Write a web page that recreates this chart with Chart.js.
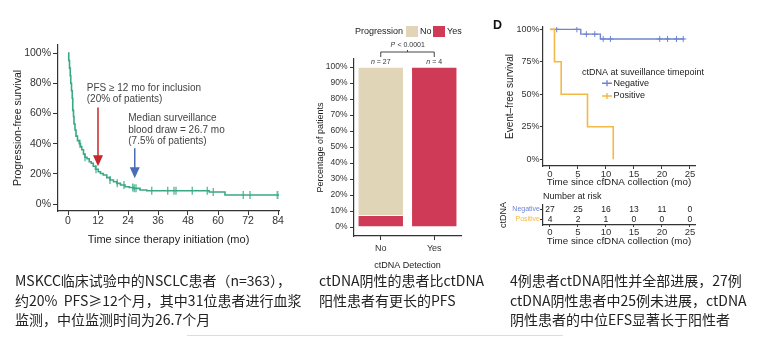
<!DOCTYPE html>
<html>
<head>
<meta charset="utf-8">
<script src="https://cdn.jsdelivr.net/npm/chart.js@4.4.1/dist/chart.umd.min.js"></script>
<style>
  html,body{margin:0;padding:0;background:#fff;}
  body{width:758px;height:338px;position:relative;overflow:hidden;}
  canvas{position:absolute;}
  .note{position:absolute;font-family:"Noto Sans CJK SC",sans-serif;font-size:14px;line-height:19.5px;color:#222;white-space:nowrap;}
  .tag{position:absolute;font-family:"Liberation Sans",Arial,sans-serif;font-weight:bold;font-size:12.5px;color:#111;}
  .rule{position:absolute;left:187px;top:335px;width:376px;height:1px;background:#ddd;}
</style>
</head>
<body>
<canvas id="cPfs" style="left:0;top:0" width="300" height="255"></canvas>
<canvas id="cBar" style="left:300px;top:0" width="180" height="280"></canvas>
<canvas id="cEfs" style="left:480px;top:0" width="278" height="190"></canvas>
<canvas id="cRisk" style="left:480px;top:190px" width="278" height="60"></canvas>
<div class="tag" style="left:493px;top:18px">D</div>

<div class="note" style="left:15px;top:271px">MSKCC临床试验中的NSCLC患者（n=363），<br>约20%&nbsp; PFS≥12个月，其中31位患者进行血浆<br>监测，中位监测时间为26.7个月</div>
<div class="note" style="left:319px;top:271px">ctDNA阴性的患者比ctDNA<br>阳性患者有更长的PFS</div>
<div class="note" style="left:510px;top:271px">4例患者ctDNA阳性并全部进展，27例<br>ctDNA阴性患者中25例未进展，ctDNA<br>阴性患者的中位EFS显著长于阳性者</div>
<div class="rule"></div>

<script>
// ---- panel A: PFS of whole cohort (months, %)
var pfsTime = [0, 0.3, 0.6, 0.9, 1.1, 1.4, 1.7, 1.9, 2.2, 2.4, 2.8, 3.2, 3.8, 4.5, 5.0, 5.5, 6.2, 6.8, 7.6, 8.5, 9.3, 10.1, 11.0, 12.1, 13.0, 14.1, 15.5, 16.8, 18.2, 19.5, 21.0, 22.8, 24.5, 26.1, 28.8, 31.5, 56.5, 62.8, 84.5];
var pfsSurv = [100, 95, 90, 85, 80, 75, 70, 62, 58, 53, 49, 45, 42, 40, 38, 36, 33, 31, 30, 28, 27, 25, 23, 21.4, 20.2, 19.2, 17.5, 15.9, 14.8, 13.7, 12.6, 11.5, 11.0, 10.4, 9.3, 8.8, 8.0, 6.0, 6.0];
var pfsCensor = [4.8, 6.8, 11.2, 16.8, 19.7, 22.4, 25.9, 26.5, 27.2, 33.5, 39.9, 42.4, 43.2, 49.7, 55.7, 58.1, 70.1, 72.8, 83.7, 84.5];
var pfsTicksX = [0, 12, 24, 36, 48, 60, 72, 84];
var pfsTicksY = [0, 20, 40, 60, 80, 100];
var arrowAt = [12, 26.7];
var arrowFrom = [64, 37];
var arrowTo = [25, 17];
var noteInclusion = ['PFS \u2265 12 mo for inclusion', '(20% of patients)'];
var noteDraw = ['Median surveillance', 'blood draw = 26.7 mo', '(7.5% of patients)'];

// ---- panel B: progression by ctDNA detection
var barCats = ['No', 'Yes'];
var progYes = [7.4, 100];
var progNo = [92.6, 0];
var barN = [27, 4];
var barTicksY = [0, 10, 20, 30, 40, 50, 60, 70, 80, 90, 100];
var pText = 'P < 0.0001';

// ---- panel D: event-free survival by ctDNA
var negTime = [0, 5.5, 9.0, 24.0];
var negSurv = [100, 96.3, 92.6, 92.6];
var negCensor = [1.2, 4.8, 6.5, 8.0, 9.5, 10.8, 19.6, 21.0, 22.6, 23.8];
var posTime = [0, 0.8, 2.0, 6.7, 11.3];
var posSurv = [100, 75, 50, 25, 0];
var efsTicksX = [0, 5, 10, 15, 20, 25];
var efsTicksY = [0, 25, 50, 75, 100];
var riskNeg = [27, 25, 16, 13, 11, 0];
var riskPos = [4, 2, 1, 0, 0, 0];

var FONT = '"Liberation Sans", Arial, Helvetica, sans-serif';
var INK = '#333';
var GREEN = '#3aa883';
var RED = '#c8262e';
var BLUE = '#4a6db8';
var TAN = '#e1d5b7';
var CRIMSON = '#cf3a57';
var NEG = '#6f84d2';
var POS = '#f4b846';

Chart.defaults.font.family = FONT;
Chart.defaults.color = INK;
Chart.defaults.plugins.legend.display = false;
Chart.defaults.plugins.tooltip.enabled = false;

function survAt(times, surv, t){
  var v = surv[0];
  for (var i=0;i<times.length;i++) if (times[i] <= t) v = surv[i];
  return v;
}
function steps(times, surv){ return times.map(function(t,i){ return {x:t, y:surv[i]}; }); }
function marks(times, surv, cens){ return cens.map(function(t){ return {x:t, y:survAt(times, surv, t)}; }); }

function axis(min, max, ticks, size, tickLen, pad){
  return {
    type:'linear', min:min, max:max,
    afterBuildTicks: function(s){ s.ticks = ticks.map(function(v){ return {value:v}; }); },
    ticks:{ font:{size:size}, color:INK, padding:pad, autoSkip:false, maxRotation:0 },
    grid:{ display:true, drawOnChartArea:false, drawTicks:true, tickLength:tickLen, color:INK, lineWidth:1 },
    border:{ display:true, color:INK, width:1.2 }
  };
}
function pct(v){ return v + '%'; }

// ---------- panel A
var xA = axis(-4, 84.4, pfsTicksX, 10.5, 4, 0);
xA.afterFit = function(s){ s.height = 44; };
xA.title = { display:true, text:'Time since therapy initiation (mo)', font:{size:11}, color:'#222', padding:{top:0, bottom:8.4} };
var yA = axis(-4.6, 105.3, pfsTicksY, 10.5, 5, 2);
yA.ticks.callback = pct;
yA.afterFit = function(s){ s.width = 58; };
yA.title = { display:true, text:'Progression-free survival', font:{size:10.5}, color:'#222', padding:{top:11.7, bottom:0} };

function drawArrow(ctx, x, y0, y1, color){
  ctx.save();
  ctx.strokeStyle = color; ctx.fillStyle = color; ctx.lineWidth = 1.5;
  ctx.beginPath(); ctx.moveTo(x, y0); ctx.lineTo(x, y1 - 9); ctx.stroke();
  ctx.beginPath(); ctx.moveTo(x - 5, y1 - 11); ctx.lineTo(x + 5, y1 - 11); ctx.lineTo(x, y1); ctx.closePath(); ctx.fill();
  ctx.restore();
}

var pfsNotes = {
  id:'pfsNotes',
  afterDatasetsDraw: function(chart){
    var ctx = chart.ctx, x = chart.scales.x, y = chart.scales.y;
    var cols = [RED, BLUE];
    for (var i=0;i<arrowAt.length;i++){
      drawArrow(ctx, x.getPixelForValue(arrowAt[i]), y.getPixelForValue(arrowFrom[i]), y.getPixelForValue(arrowTo[i]), cols[i]);
    }
    ctx.save();
    ctx.font = '10px ' + FONT; ctx.fillStyle = '#444'; ctx.textAlign = 'left'; ctx.textBaseline = 'middle';
    var lx = x.getPixelForValue(7.5), ly = y.getPixelForValue(76.6);
    noteInclusion.forEach(function(t, i){ ctx.fillText(t, lx, ly + i*11); });
    lx = x.getPixelForValue(24.1); ly = y.getPixelForValue(56.8);
    noteDraw.forEach(function(t, i){ ctx.fillText(t, lx, ly + i*11.7); });
    ctx.restore();
  }
};

new Chart(document.getElementById('cPfs'), {
  type:'line',
  data:{ datasets:[
    { data: steps(pfsTime, pfsSurv), stepped:true, borderColor:GREEN, borderWidth:1.6, pointRadius:0, fill:false },
    { data: marks(pfsTime, pfsSurv, pfsCensor), showLine:false, pointStyle:'line', pointRotation:90, pointRadius:4,
      pointBorderColor:'rgba(58,168,131,0.85)', pointBorderWidth:1.3 }
  ]},
  options:{
    responsive:false, animation:false, events:[],
    layout:{ padding:{left:0, top:45, right:21, bottom:0}, autoPadding:false },
    scales:{ x:xA, y:yA }
  },
  plugins:[pfsNotes]
});

// ---------- panel B
var barNotes = {
  id:'barNotes',
  afterDraw: function(chart){
    var ctx = chart.ctx, x = chart.scales.x, y = chart.scales.y;
    var top = y.getPixelForValue(100);
    ctx.save();
    ctx.font = '9px ' + FONT; ctx.textBaseline = 'middle'; ctx.textAlign = 'left';
    ctx.fillStyle = '#222';
    ctx.fillText('Progression', 55, 32);
    var lx = 106;
    var ds = chart.data.datasets.slice().reverse();
    ds.forEach(function(d){
      ctx.fillStyle = d.backgroundColor; ctx.fillRect(lx, 26, 12, 11);
      ctx.fillStyle = '#222'; ctx.fillText(d.label, lx + 14, 32);
      lx += 27;
    });
    // bracket + p value
    var x1 = x.getPixelForValue(0), x2 = x.getPixelForValue(1), yb = top - 15;
    ctx.strokeStyle = '#444'; ctx.lineWidth = 1;
    ctx.beginPath();
    ctx.moveTo(x1, yb + 5); ctx.lineTo(x1, yb); ctx.lineTo(x2, yb); ctx.lineTo(x2, yb + 5);
    ctx.moveTo((x1+x2)/2, yb); ctx.lineTo((x1+x2)/2, yb - 2);
    ctx.stroke();
    ctx.font = 'italic 7px ' + FONT; ctx.fillStyle = '#333'; ctx.textAlign = 'center';
    var pw = ctx.measureText(pText).width;
    ctx.textAlign = 'left';
    ctx.fillText('P', (x1+x2)/2 - pw/2, top - 22);
    ctx.font = '7px ' + FONT;
    ctx.fillText(pText.slice(1), (x1+x2)/2 - pw/2 + 5, top - 22);
    // n labels
    for (var i=0;i<barN.length;i++){
      var cx = x.getPixelForValue(i);
      var rest = ' = ' + barN[i];
      ctx.font = '7px ' + FONT;
      var rw = ctx.measureText(rest).width;
      ctx.font = 'italic 7px ' + FONT;
      var nw = ctx.measureText('n').width;
      var sx = cx - (rw + nw)/2;
      ctx.fillText('n', sx, top - 5);
      ctx.font = '7px ' + FONT;
      ctx.fillText(rest, sx + nw, top - 5);
    }
    ctx.restore();
  }
};

var yB = axis(-5.6, 105, barTicksY, 8.5, 4, 2.5);
yB.stacked = true;
yB.ticks.callback = pct;
yB.afterFit = function(s){ s.width = 54; };
yB.title = { display:true, text:'Percentage of patients', font:{size:9}, color:'#222', padding:{top:15.6, bottom:0} };

new Chart(document.getElementById('cBar'), {
  type:'bar',
  data:{ labels: barCats, datasets:[
    { label:'Yes', data: progYes, backgroundColor: CRIMSON, borderColor:'rgba(255,255,255,0.7)', borderWidth:0.8, barPercentage:0.86, categoryPercentage:1 },
    { label:'No', data: progNo, backgroundColor: TAN, borderColor:'rgba(255,255,255,0.7)', borderWidth:0.8, barPercentage:0.86, categoryPercentage:1 }
  ]},
  options:{
    responsive:false, animation:false, events:[],
    layout:{ padding:{left:0, top:59, right:19, bottom:0}, autoPadding:false },
    scales:{
      x:{ stacked:true,
          afterFit: function(s){ s.height = 44; },
          ticks:{ font:{size:9}, color:INK, padding:3.6, maxRotation:0 },
          grid:{ display:true, offset:false, drawOnChartArea:false, drawTicks:true, tickLength:4, color:INK },
          border:{ display:true, color:INK, width:1.2 },
          title:{ display:true, text:'ctDNA Detection', font:{size:9}, color:'#222', padding:{top:0, bottom:8.6} } },
      y: yB
    }
  },
  plugins:[barNotes]
});

// ---------- panel D
var efsNotes = {
  id:'efsNotes',
  afterDraw: function(chart){
    var ctx = chart.ctx;
    ctx.save();
    ctx.font = '9px ' + FONT; ctx.fillStyle = '#222'; ctx.textAlign = 'left'; ctx.textBaseline = 'middle';
    ctx.fillText('ctDNA at suveillance timepoint', 102, 73);
    var items = [['Negative', NEG, 83.3], ['Positive', POS, 96]];
    items.forEach(function(it){
      ctx.strokeStyle = it[1]; ctx.lineWidth = 1.4;
      ctx.beginPath();
      ctx.moveTo(122, it[2]); ctx.lineTo(132, it[2]);
      ctx.moveTo(127, it[2] - 3); ctx.lineTo(127, it[2] + 3);
      ctx.stroke();
      ctx.fillStyle = '#222'; ctx.fillText(it[0], 133.5, it[2]);
    });
    ctx.restore();
  }
};

var xD = axis(-1.25, 25.9, efsTicksX, 9.5, 3, 0);
xD.afterFit = function(s){ s.height = 24; };
xD.title = { display:true, text:'Time since cfDNA collection (mo)', font:{size:9.8}, color:'#222', padding:{top:0, bottom:1.8} };
var yD = axis(-5.2, 101.8, efsTicksY, 9, 3, 0.5);
yD.ticks.callback = pct;
yD.afterFit = function(s){ s.width = 63; };
yD.title = { display:true, text:'Event\u2013free survival', font:{size:10}, color:'#222', padding:{top:24, bottom:0} };

new Chart(document.getElementById('cEfs'), {
  type:'line',
  data:{ datasets:[
    { order:0, data: steps(posTime, posSurv), stepped:true, borderColor:POS, borderWidth:1.6, pointRadius:0, fill:false },
    { order:1, data: steps(negTime, negSurv), stepped:true, borderColor:NEG, borderWidth:1.4, pointRadius:0, fill:false },
    { order:2, data: marks(negTime, negSurv, negCensor), showLine:false, pointStyle:'cross', pointRadius:3,
      pointBorderColor:NEG, pointBorderWidth:1 }
  ]},
  options:{
    responsive:false, animation:false, events:[],
    layout:{ padding:{left:0, top:27, right:63, bottom:0}, autoPadding:false },
    scales:{ x:xD, y:yD }
  },
  plugins:[efsNotes]
});

// ---------- risk table
var riskNotes = {
  id:'riskNotes',
  afterDraw: function(chart){
    var ctx = chart.ctx, x = chart.scales.x, y = chart.scales.y;
    ctx.save();
    ctx.font = '9px ' + FONT; ctx.fillStyle = '#222'; ctx.textAlign = 'left'; ctx.textBaseline = 'middle';
    ctx.fillText('Number at risk', chart.chartArea.left, 7);
    ctx.font = '8.5px ' + FONT; ctx.textAlign = 'center';
    var rows = [[riskNeg, 2], [riskPos, 1]];
    rows.forEach(function(r){
      for (var i=0;i<efsTicksX.length;i++){
        ctx.fillText(String(r[0][i]), x.getPixelForValue(efsTicksX[i]), y.getPixelForValue(r[1]));
      }
    });
    ctx.restore();
  }
};

var xR = axis(-1.25, 25.9, efsTicksX, 9.5, 2, 0);
xR.afterFit = function(s){ s.height = 25; };
xR.title = { display:true, text:'Time since cfDNA collection (mo)', font:{size:9.8}, color:'#222', padding:{top:0, bottom:3.1} };
var yR = axis(0.43, 2.43, [1, 2], 7, 3, 0);
yR.ticks.callback = function(v){ return v === 2 ? 'Negative' : 'Positive'; };
yR.ticks.color = function(c){ return c.tick && c.tick.value === 2 ? NEG : POS; };
yR.afterFit = function(s){ s.width = 63; };
yR.title = { display:true, text:'ctDNA', font:{size:9}, color:'#222', padding:{top:18.6, bottom:0} };

new Chart(document.getElementById('cRisk'), {
  type:'line',
  data:{ datasets:[] },
  options:{
    responsive:false, animation:false, events:[],
    layout:{ padding:{left:0, top:15, right:63, bottom:0}, autoPadding:false },
    scales:{ x:xR, y:yR }
  },
  plugins:[riskNotes]
});
</script>
</body>
</html>
